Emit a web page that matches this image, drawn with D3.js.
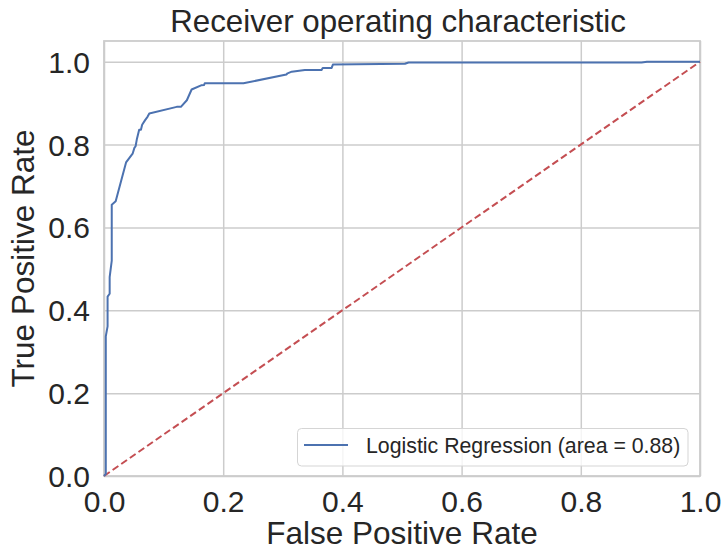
<!DOCTYPE html>
<html>
<head>
<meta charset="utf-8">
<script src="https://cdn.jsdelivr.net/npm/d3@7"></script>
<style>
  html, body { margin: 0; padding: 0; background: #ffffff; }
  svg { display: block; }
  text { font-family: "Liberation Sans", Arial, sans-serif; fill: #262626; }
</style>
</head>
<body>
<script>
// ---- data ----
const fpr = [0, 0.003, 0.003, 0.006, 0.006, 0.0095, 0.0095, 0.013, 0.013, 0.0196, 0.037, 0.048, 0.051, 0.053, 0.055, 0.059, 0.062, 0.064, 0.069, 0.073, 0.076, 0.122, 0.129, 0.139, 0.147, 0.163, 0.168, 0.169, 0.234, 0.306, 0.308, 0.315, 0.337, 0.365, 0.367, 0.382, 0.384, 0.505, 0.511, 0.902, 0.911, 1.0];
const tpr = [0, 0.005, 0.337, 0.361, 0.433, 0.44, 0.48, 0.52, 0.655, 0.663, 0.757, 0.778, 0.792, 0.796, 0.812, 0.836, 0.836, 0.848, 0.859, 0.867, 0.875, 0.891, 0.891, 0.907, 0.933, 0.943, 0.944, 0.948, 0.948, 0.969, 0.972, 0.976, 0.980, 0.980, 0.985, 0.985, 0.993, 0.995, 0.998, 0.998, 1.0, 1.0];
const diagX = [0, 1];
const diagY = [0, 1];
const xTicks = [0, 0.2, 0.4, 0.6, 0.8, 1.0];
const yTicks = [0, 0.2, 0.4, 0.6, 0.8, 1.0];
const titleText = "Receiver operating characteristic";
const xLabel = "False Positive Rate";
const yLabel = "True Positive Rate";
const legendLabel = "Logistic Regression (area = 0.88)";

// ---- layout ----
const W = 722, H = 550;
const L = 104, R = 700, T = 41, B = 476;
const gridColor = "#cccccc";
const blue = "#4c72b0", red = "#c44e52";

const svg = d3.select("body").append("svg").attr("width", W).attr("height", H);

const x = d3.scaleLinear().domain([0, 1]).range([L, R]);
const y = d3.scaleLinear().domain([0, 1.05]).range([B, T]);

// grid
const gx = svg.append("g").attr("transform", `translate(0,${B})`)
  .call(d3.axisBottom(x).tickValues(xTicks).tickSize(-(B - T)).tickFormat(d3.format(".1f")).tickPadding(14));
const gy = svg.append("g").attr("transform", `translate(${L},0)`)
  .call(d3.axisLeft(y).tickValues(yTicks).tickSize(-(R - L)).tickFormat(d3.format(".1f")).tickPadding(14));
[gx, gy].forEach(g => {
  g.select(".domain").remove();
  g.selectAll(".tick line").attr("stroke", gridColor).attr("stroke-width", 1.5);
  g.selectAll(".tick text").style("font-size", "30px").attr("fill", "#262626")
    .style("font-family", '"Liberation Sans", Arial, sans-serif');
});
gx.selectAll(".tick text").attr("dy", null).attr("y", 36);
gy.selectAll(".tick text").attr("x", -14).attr("dy", "0.35em");

// spines
svg.append("rect").attr("x", L).attr("y", T).attr("width", R - L).attr("height", B - T)
  .attr("fill", "none").attr("stroke", gridColor).attr("stroke-width", 1.8);

// curves
const line = d3.line().x(d => x(d[0])).y(d => y(d[1]));
svg.append("path").datum(diagX.map((v, i) => [v, diagY[i]]))
  .attr("d", line).attr("fill", "none").attr("stroke", red)
  .attr("stroke-width", 2).attr("stroke-dasharray", "7,3.5");
svg.append("path").datum(fpr.map((v, i) => [v, tpr[i]]))
  .attr("d", line).attr("fill", "none").attr("stroke", blue)
  .attr("stroke-width", 2).attr("stroke-linejoin", "round");

// legend
const lg = svg.append("g");
lg.append("rect").attr("x", 297.5).attr("y", 428.5).attr("width", 390.5).attr("height", 37.5)
  .attr("rx", 4).attr("fill", "#ffffff").attr("fill-opacity", 0.8)
  .attr("stroke", "#d5d5d5").attr("stroke-width", 1);
lg.append("line").attr("x1", 304).attr("x2", 348).attr("y1", 445).attr("y2", 445)
  .attr("stroke", blue).attr("stroke-width", 2);
lg.append("text").attr("x", 366).attr("y", 452.5).style("font-size", "21.3px").text(legendLabel);

// title and labels
svg.append("text").attr("x", 398).attr("y", 32).attr("text-anchor", "middle")
  .style("font-size", "31.3px").text(titleText);
svg.append("text").attr("x", (L + R) / 2).attr("y", 544).attr("text-anchor", "middle")
  .style("font-size", "31.5px").text(xLabel);
svg.append("text").attr("transform", `translate(34,${(T + B) / 2}) rotate(-90)`)
  .attr("text-anchor", "middle").style("font-size", "31.5px").text(yLabel);
</script>
</body>
</html>
